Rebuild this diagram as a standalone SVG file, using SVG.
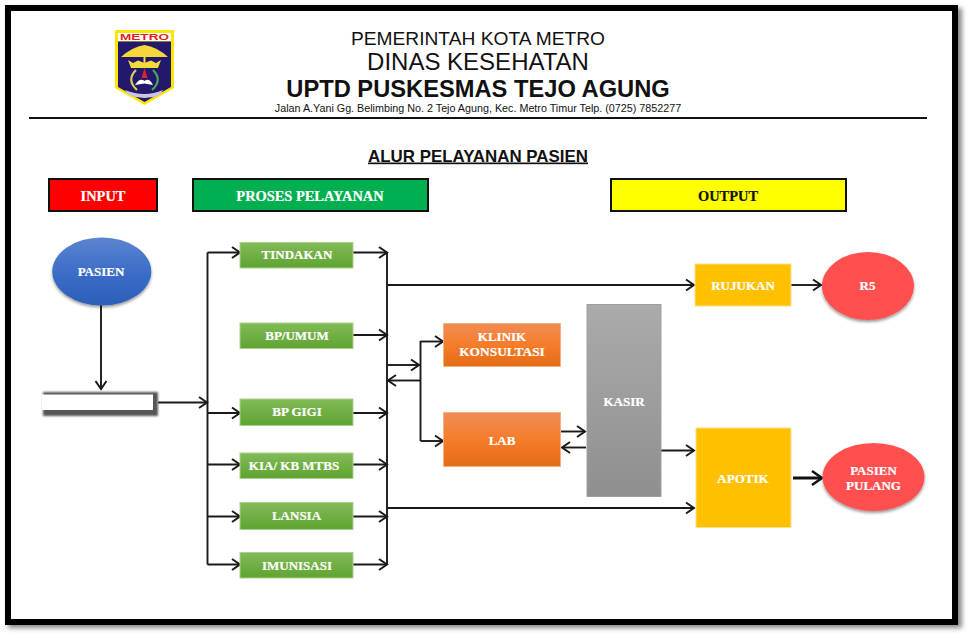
<svg xmlns="http://www.w3.org/2000/svg" width="970" height="638" viewBox="0 0 970 638">
<style>
.hd{font-family:"Liberation Sans",Arial,sans-serif;fill:#111;text-anchor:middle}
.t{font-family:"Liberation Serif","Times New Roman",serif;font-weight:bold;font-size:13px;fill:#fff;text-anchor:middle;stroke:#fff;stroke-width:.2}
.b{font-size:14.400px}
.band{stroke:#111;stroke-width:2}
.green{fill:url(#gGreen);stroke:#a9d18e;stroke-width:1}
.orange{fill:url(#gOrange);stroke:#f4b183;stroke-width:1}
.gold{fill:#ffc000;stroke:#ffe08a;stroke-width:1}
.red{fill:#ff5050;filter:url(#sh)}
.c{fill:none;stroke:#1a1a1a;stroke-width:1.900}
.a{marker-end:url(#arr)}
</style>
<defs>
<linearGradient id="gGreen" x1="0" y1="0" x2="0" y2="1"><stop offset="0" stop-color="#82bb58"/><stop offset="1" stop-color="#5fa331"/></linearGradient>
<linearGradient id="gOrange" x1="0" y1="0" x2="0" y2="1"><stop offset="0" stop-color="#f18c55"/><stop offset=".55" stop-color="#f47b27"/><stop offset="1" stop-color="#e36c17"/></linearGradient>
<linearGradient id="gBlue" x1="0" y1="0" x2="0" y2="1"><stop offset="0" stop-color="#5b84d0"/><stop offset=".55" stop-color="#3a6cc6"/><stop offset="1" stop-color="#2c5fb8"/></linearGradient>
<linearGradient id="gGrey" x1="0" y1="0" x2="0" y2="1"><stop offset="0" stop-color="#ababab"/><stop offset="1" stop-color="#8f8f8f"/></linearGradient>
<filter id="sh" x="-20%" y="-20%" width="140%" height="140%"><feDropShadow dx="0" dy="2" stdDeviation="1.500" flood-color="#000" flood-opacity=".4"/></filter>
<filter id="blur" x="-10%" y="-30%" width="120%" height="160%"><feGaussianBlur stdDeviation="1.200"/></filter>
<filter id="blurB" x="-3%" y="-3%" width="106%" height="106%"><feGaussianBlur stdDeviation="2.500"/></filter>
<marker id="arr" markerUnits="userSpaceOnUse" markerWidth="12" markerHeight="14" refX="9.500" refY="7" orient="auto"><path d="M1.500 1.500 L9.500 7 L1.500 12.500" fill="none" stroke="#1a1a1a" stroke-width="2"/></marker>
</defs>

<rect width="970" height="638" fill="#fff"/>
<g id="frame">
<rect x="8" y="8" width="954" height="620" fill="#888" filter="url(#blurB)"/>
<rect x="8" y="8" width="947" height="614" fill="#fff" stroke="#000" stroke-width="6"/>
</g>

<g id="logo">
<path d="M115 30H174V88L144.500 105L115 88Z" fill="#ffe600"/>
<path d="M118 41.500H171V87L144.500 102L118 87Z" fill="#23186b"/>
<rect x="118" y="33" width="53" height="8" fill="#fff"/>
<text x="144.500" y="40" font-family="'Liberation Sans',Arial,sans-serif" font-weight="bold" font-size="8.500" fill="#e31b23" text-anchor="middle" textLength="49" lengthAdjust="spacingAndGlyphs">METRO</text>
<path d="M121 57Q132 47 144.500 45Q157 47 168 57Z" fill="#f5d93a"/>
<rect x="143.500" y="57" width="2" height="6" fill="#f5d93a"/>
<path d="M128 60L133 63L138 60.500L144.500 63L151 60.500L156 63L161 60L158 68H131Z" fill="#f5d93a"/>
<path d="M144.500 68L147.500 78H141.500Z" fill="#e0202a"/>
<path d="M136 70Q126 80 137 90" fill="none" stroke="#d9cf55" stroke-width="2.200"/>
<path d="M153 70Q163 80 152 90" fill="none" stroke="#4aa65a" stroke-width="2.200"/>
<path d="M135 85Q140 77 144.500 81Q149 77 153 85L144.500 83.500Z" fill="#fff"/>
<path d="M125 90Q144.500 98 163 90L160 95Q144.500 101 129 95Z" fill="#c9c6dd"/>
</g>

<g id="header">
<text class="hd" x="478" y="45" font-size="19.200">PEMERINTAH KOTA METRO</text>
<text class="hd" x="478" y="70" font-size="24">DINAS KESEHATAN</text>
<text class="hd" x="478" y="97" font-size="23.700" font-weight="bold">UPTD PUSKESMAS TEJO AGUNG</text>
<text class="hd" x="478" y="112" font-size="10.750">Jalan A.Yani Gg. Belimbing No. 2 Tejo Agung, Kec. Metro Timur Telp. (0725) 7852277</text>
<rect x="29" y="117" width="898" height="2" fill="#111"/>
<text class="hd" x="478" y="161.500" font-size="16.900" font-weight="bold" text-decoration="underline">ALUR PELAYANAN PASIEN</text>
</g>

<g id="connectors">
<path class="c a" d="M101 305V389"/>
<path class="c a" d="M158 402.500H207"/>
<path class="c" d="M207.500 252.500V564.500"/>
<path class="c a" d="M207.500 252.500H240"/>
<path class="c a" d="M207.500 413H240"/>
<path class="c a" d="M207.500 464.500H240"/>
<path class="c a" d="M207.500 516.500H240"/>
<path class="c a" d="M207.500 564.500H240"/>
<path class="c a" d="M353 252.500H387"/>
<path class="c a" d="M353 335H387"/>
<path class="c a" d="M353 413H387"/>
<path class="c a" d="M353 464.500H387"/>
<path class="c a" d="M353 516.500H387"/>
<path class="c a" d="M353 564.500H387"/>
<path class="c" d="M387 252.500V564.500"/>
<path class="c a" d="M387 285H694"/>
<path class="c a" d="M387 365H419"/>
<path class="c a" d="M420 380.500H388"/>
<path class="c" d="M420.500 341V441"/>
<path class="c a" d="M420.500 341.500H443"/>
<path class="c a" d="M420.500 441H443"/>
<path class="c a" d="M561 431.500H585"/>
<path class="c a" d="M586 447.500H562"/>
<path class="c a" d="M661 450.500H694"/>
<path class="c a" d="M387 508H694"/>
<path class="c a" d="M791 285H821"/>
<path d="M793 478H822" fill="none" stroke="#111" stroke-width="3"/>
<path d="M812 471L822 478L812 485" fill="none" stroke="#111" stroke-width="2.500"/>
</g>

<g id="input"><rect class="band" x="49" y="179" width="108" height="32" fill="#ff0000"/><text class="t b" x="103" y="200.500">INPUT</text></g>
<g id="proses"><rect class="band" x="193" y="179" width="235" height="32" fill="#00b050"/><text class="t b" x="310" y="200.500">PROSES PELAYANAN</text></g>
<g id="output"><rect class="band" x="611" y="179" width="235" height="32" fill="#ffff00"/><text class="t b" x="728" y="200.500" style="fill:#111;stroke:#111">OUTPUT</text></g>

<g id="pasien"><ellipse cx="101.800" cy="271.500" rx="49.500" ry="34" fill="url(#gBlue)" filter="url(#sh)"/><text class="t" x="101" y="276">PASIEN</text></g>
<g id="loket"><rect x="43" y="392" width="115" height="24" fill="#555" filter="url(#blur)"/><rect x="42" y="394.500" width="111" height="15.500" fill="#fff"/></g>

<g id="tindakan"><rect class="green" x="240" y="242.500" width="113" height="25.500"/><text class="t" x="297" y="259">TINDAKAN</text></g>
<g id="bpumum"><rect class="green" x="240" y="323" width="113" height="25.500"/><text class="t" x="297" y="340">BP/UMUM</text></g>
<g id="bpgigi"><rect class="green" x="240" y="399" width="113" height="26.500"/><text class="t" x="297" y="416">BP GIGI</text></g>
<g id="kia"><rect class="green" x="240" y="453" width="113" height="25.500"/><text class="t" x="294" y="470">KIA/ KB MTBS</text></g>
<g id="lansia"><rect class="green" x="240" y="502.500" width="113" height="27"/><text class="t" x="296.500" y="520">LANSIA</text></g>
<g id="imunisasi"><rect class="green" x="240" y="552.500" width="113" height="25.500"/><text class="t" x="297" y="570">IMUNISASI</text></g>

<g id="klinik"><rect class="orange" x="443.500" y="323.500" width="117" height="43"/><text class="t" x="502" y="341">KLINIK</text><text class="t" x="502" y="356" style="font-size:13.400px">KONSULTASI</text></g>
<g id="lab"><rect class="orange" x="443.500" y="412.500" width="117" height="54"/><text class="t" x="502" y="445">LAB</text></g>
<g id="kasir"><rect x="587" y="304.500" width="74" height="192" fill="url(#gGrey)" stroke="#a0a0a0"/><text class="t" x="624" y="406">KASIR</text></g>
<g id="rujukan"><rect class="gold" x="695" y="264" width="96" height="42"/><text class="t" x="743" y="290">RUJUKAN</text></g>
<g id="apotik"><rect class="gold" x="696" y="428" width="95" height="99.500"/><text class="t" x="743" y="483">APOTIK</text></g>
<g id="r5"><ellipse class="red" cx="868" cy="286" rx="46" ry="34"/><text class="t" x="867.500" y="290">R5</text></g>
<g id="pulang"><ellipse class="red" cx="873.500" cy="477" rx="51" ry="34"/><text class="t" x="873.500" y="475">PASIEN</text><text class="t" x="873.500" y="490">PULANG</text></g>
</svg>
